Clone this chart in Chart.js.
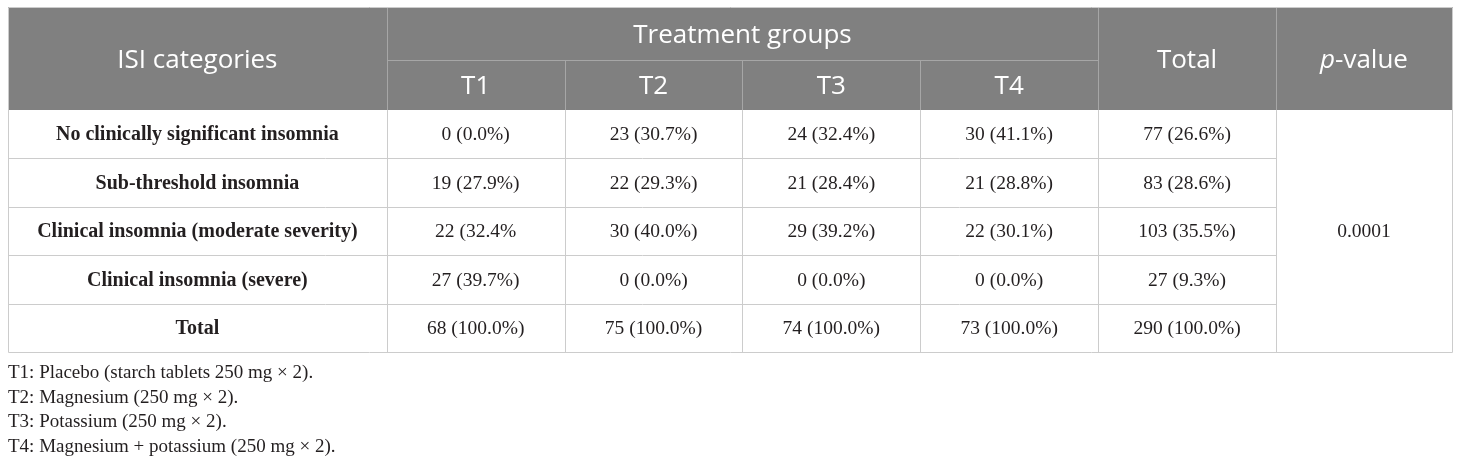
<!DOCTYPE html>
<html>
<head>
<meta charset="utf-8">
<script src="https://cdn.jsdelivr.net/npm/chart.js@4.4.1/dist/chart.umd.min.js"></script>
<style>
  html, body { margin: 0; padding: 0; background: #fff; }
  #wrap { width: 1460px; height: 464px; position: relative; }
</style>
</head>
<body>
<div id="wrap"><canvas id="isiTable"></canvas></div>
<script>
// table content
const categories = [
  "No clinically significant insomnia",
  "Sub-threshold insomnia",
  "Clinical insomnia (moderate severity)",
  "Clinical insomnia (severe)",
  "Total",
];
const groups = ["T1", "T2", "T3", "T4"];
const t1 = ["0 (0.0%)", "19 (27.9%)", "22 (32.4%", "27 (39.7%)", "68 (100.0%)"];
const t2 = ["23 (30.7%)", "22 (29.3%)", "30 (40.0%)", "0 (0.0%)", "75 (100.0%)"];
const t3 = ["24 (32.4%)", "21 (28.4%)", "29 (39.2%)", "0 (0.0%)", "74 (100.0%)"];
const t4 = ["30 (41.1%)", "21 (28.8%)", "22 (30.1%)", "0 (0.0%)", "73 (100.0%)"];
const totals = ["77 (26.6%)", "83 (28.6%)", "103 (35.5%)", "27 (9.3%)", "290 (100.0%)"];
const pValue = "0.0001";
const notes = [
  "T1: Placebo (starch tablets 250 mg \u00d7 2).",
  "T2: Magnesium (250 mg \u00d7 2).",
  "T3: Potassium (250 mg \u00d7 2).",
  "T4: Magnesium + potassium (250 mg \u00d7 2).",
];

// grid in scale units: first column wider, header rows slightly taller
const colEdges = [0, 2.13, 3.13, 4.13, 5.13, 6.13, 7.13, 8.12];
const rowEdges = [0, 1.095, 2.128, 3.128, 4.128, 5.128, 6.128, 7.128];

const HEAD_BG = "#808080";
const HEAD_LINE = "#a6a6a6";
const GRID = "#cccccc";
const INK = "#231f20";
const SANS = '"Open Sans", "Noto Sans", sans-serif';
const SERIF = '"Liberation Serif", "DejaVu Serif", serif';
const HEAD_FONT = "26px " + SANS;
const BODY_FONT = "19.5px " + SERIF;

const mid = (a, i, j) => (a[i] + a[j === undefined ? i + 1 : j]) / 2;

function cells(labels, col, row0, font, color, rowSpan) {
  return {
    data: labels.map((l, i) => ({
      x: mid(colEdges, col),
      y: rowSpan ? mid(rowEdges, row0, row0 + rowSpan) : mid(rowEdges, row0 + i),
    })),
    labels: labels,
    font: font,
    color: color,
    pointRadius: 0,
  };
}

const datasets = [
  // header
  cells(["ISI categories"], 0, 0, HEAD_FONT, "#fff", 2),
  { data: [{ x: mid(colEdges, 1, 5), y: mid(rowEdges, 0) }], labels: ["Treatment groups"],
    font: HEAD_FONT, color: "#fff", pointRadius: 0 },
  { data: groups.map((g, i) => ({ x: mid(colEdges, i + 1), y: mid(rowEdges, 1) })), labels: groups,
    font: HEAD_FONT, color: "#fff", pointRadius: 0 },
  cells(["Total"], 5, 0, HEAD_FONT, "#fff", 2),
  cells(["p-value"], 6, 0, HEAD_FONT, "#fff", 2),
  // body
  cells(categories, 0, 2, "bold 20px " + SERIF, INK),
  cells(t1, 1, 2, BODY_FONT, INK),
  cells(t2, 2, 2, BODY_FONT, INK),
  cells(t3, 3, 2, BODY_FONT, INK),
  cells(t4, 4, 2, BODY_FONT, INK),
  cells(totals, 5, 2, BODY_FONT, INK),
  cells([pValue], 6, 2, BODY_FONT, INK, 5),
];

const tablePlugin = {
  id: "tablePlugin",
  beforeDatasetsDraw(chart) {
    const { ctx, scales: { x, y } } = chart;
    const px = (v) => Math.round(x.getPixelForValue(v)) + 0.5;
    const py = (v) => Math.round(y.getPixelForValue(v)) + 0.5;
    const L = px(colEdges[0]), R = px(colEdges[7]);
    const T = py(rowEdges[0]), B = py(rowEdges[7]);
    const H = py(rowEdges[2]);
    ctx.save();
    ctx.fillStyle = HEAD_BG;
    ctx.fillRect(L - 0.5, T - 0.5, R - L + 1, H - T);
    ctx.lineWidth = 1;
    // header lines
    ctx.strokeStyle = HEAD_LINE;
    ctx.beginPath();
    ctx.moveTo(px(colEdges[1]), py(rowEdges[1]));
    ctx.lineTo(px(colEdges[5]), py(rowEdges[1]));
    for (let c = 1; c < 7; c++) {
      const top = c >= 2 && c <= 4 ? py(rowEdges[1]) : T;
      ctx.moveTo(px(colEdges[c]), top);
      ctx.lineTo(px(colEdges[c]), H);
    }
    ctx.stroke();
    // body grid
    ctx.strokeStyle = GRID;
    ctx.beginPath();
    for (let r = 3; r < 7; r++) {
      ctx.moveTo(L, py(rowEdges[r]));
      ctx.lineTo(px(colEdges[6]), py(rowEdges[r]));
    }
    for (let c = 1; c < 7; c++) {
      ctx.moveTo(px(colEdges[c]), H);
      ctx.lineTo(px(colEdges[c]), B);
    }
    ctx.moveTo(L, T); ctx.lineTo(L, B); ctx.lineTo(R, B); ctx.lineTo(R, T);
    ctx.moveTo(L, T); ctx.lineTo(R, T);
    ctx.stroke();
    ctx.restore();
  },
  afterDatasetsDraw(chart) {
    const { ctx, chartArea } = chart;
    ctx.save();
    ctx.textAlign = "center";
    ctx.textBaseline = "middle";
    chart.data.datasets.forEach((ds, di) => {
      const meta = chart.getDatasetMeta(di);
      const dy = ds.font === HEAD_FONT ? 2 : 1;
      meta.data.forEach((pt, i) => {
        ctx.font = ds.font;
        ctx.fillStyle = ds.color;
        const txt = ds.labels[i];
        if (txt === "p-value") {
          // italic p
          ctx.font = "italic " + ds.font;
          const wp = ctx.measureText("p").width;
          ctx.font = ds.font;
          const wr = ctx.measureText("-value").width;
          const x0 = pt.x - (wp + wr) / 2;
          ctx.textAlign = "left";
          ctx.font = "italic " + ds.font;
          ctx.fillText("p", x0, pt.y + dy);
          ctx.font = ds.font;
          ctx.fillText("-value", x0 + wp, pt.y + dy);
          ctx.textAlign = "center";
        } else {
          ctx.fillText(txt, pt.x, pt.y + dy);
        }
      });
    });
    // footnotes
    ctx.textAlign = "left";
    ctx.font = "19px " + SERIF;
    ctx.fillStyle = INK;
    notes.forEach((n, i) => {
      ctx.fillText(n, chartArea.left, chartArea.bottom + 21 + i * 24.7);
    });
    ctx.restore();
  },
};

new Chart(document.getElementById("isiTable"), {
  type: "scatter",
  data: { datasets: datasets },
  options: {
    responsive: true,
    maintainAspectRatio: false,
    animation: false,
    events: [],
    layout: { padding: { left: 8, right: 8, top: 7, bottom: 112 } },
    plugins: { legend: { display: false }, tooltip: { enabled: false } },
    scales: {
      x: { type: "linear", display: false, min: 0, max: colEdges[7] },
      y: { type: "linear", display: false, min: 0, max: rowEdges[7], reverse: true },
    },
  },
  plugins: [tablePlugin],
});
</script>
</body>
</html>
